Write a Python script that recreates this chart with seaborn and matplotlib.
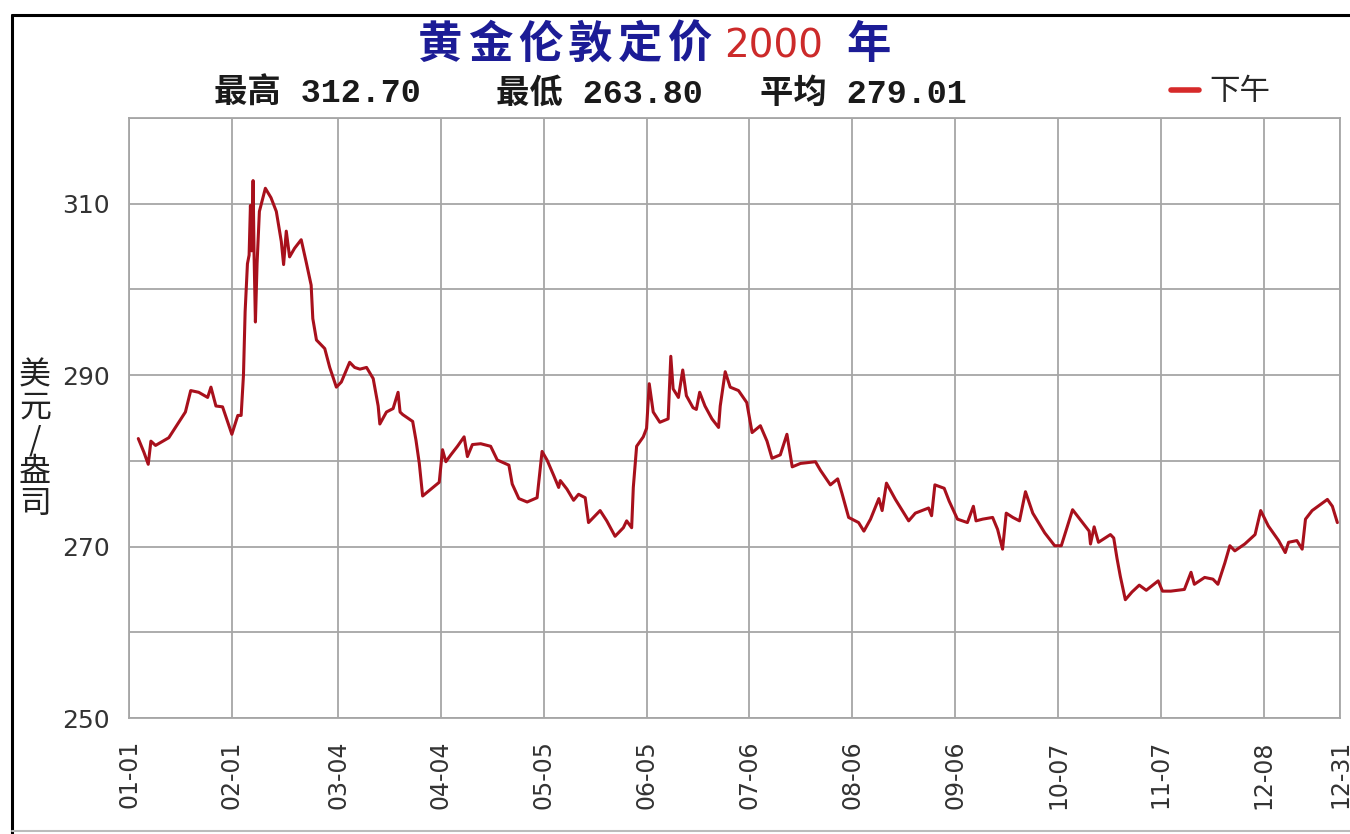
import pandas as pd
import seaborn as sns
import matplotlib.pyplot as plt
from matplotlib.lines import Line2D
from matplotlib.ticker import MultipleLocator

# London PM gold fix, year 2000
# day = days since 01-01, price = USD / oz
day = [2.8, 4.5, 5.8, 6.6, 8.0, 12.0, 17.0, 18.6, 21.0, 23.7, 24.7, 26.2, 28.2,
       31.0, 32.8, 33.8, 34.5, 35.0, 35.7, 36.2, 36.6, 37.0, 37.4, 37.7, 38.1,
       38.6, 39.3, 41.1, 42.8, 44.4, 45.9, 46.6, 47.4, 48.4, 49.9, 51.9, 53.4,
       54.9, 55.4, 56.5, 59.0, 60.5, 62.5, 64.0, 66.5, 68.0, 69.6, 71.6, 73.6,
       75.1, 75.6, 77.6, 79.6, 81.1, 81.7,
       82.5, 85.5, 86.5, 87.5, 88.5, 91.0, 93.5, 94.5, 95.5, 97.0, 99.0, 101.0,
       102.0, 103.5, 106.0, 109.0, 111.0, 114.5, 115.5, 117.5, 120.0, 123.0,
       124.5, 126.0, 128.0, 129.5, 130.0, 132.0, 134.0, 135.5, 137.5, 138.5,
       142.0, 144.0, 146.5, 149.0, 150.0, 151.5, 152.0, 153.0, 155.0,
       156.0, 156.8, 158.0, 160.0, 162.5, 163.3, 164.0, 165.6, 166.9, 168.0,
       170.0, 171.0, 172.0, 173.6, 175.7, 177.7, 178.2, 179.7, 181.2, 183.7,
       186.2, 187.8, 190.3, 192.3, 193.8, 196.3, 198.3, 199.9, 202.4, 206.9,
       208.4, 211.4, 213.6, 214.9, 216.9,
       219.9, 221.5, 223.5, 226.0, 227.0, 228.3, 231.0, 235.0, 237.0, 241.0,
       241.9, 242.9, 245.7, 247.2, 249.7, 252.7, 254.5, 255.3, 257.3, 260.3,
       261.8, 263.3, 264.4, 266.4, 268.4, 270.2, 272.4, 276.0, 279.0, 281.0,
       284.4, 286.6,
       289.4, 289.8, 290.9, 292.2, 295.8, 296.8, 297.8, 298.8, 300.3, 302.3,
       304.5, 306.6, 310.2, 311.5, 314.0, 318.1, 320.1, 321.1, 324.2, 326.7,
       328.2, 330.3, 331.8, 333.3, 336.3, 339.4, 341.1, 343.4, 346.5, 348.5,
       349.5, 352.0, 353.6, 354.6, 356.6, 361.2, 362.7, 364.2]
price = [282.6, 281.0, 279.6, 282.3, 281.8, 282.7, 285.7, 288.2, 288.0, 287.4, 288.6, 286.4, 286.3,
         283.1, 285.3, 285.3, 290.0, 297.4, 303.0, 304.0, 309.8, 304.5, 312.7, 304.0, 296.2,
         303.0, 309.1, 311.8, 310.7, 309.1, 305.6, 302.9, 306.8, 303.8, 304.8, 305.8, 303.2,
         300.5, 296.6, 294.1, 293.1, 290.9, 288.6, 289.2, 291.5, 290.9, 290.7, 290.9, 289.6,
         286.4, 284.3, 285.7, 286.1, 288.0, 285.7,
         285.4, 284.6, 282.4, 279.7, 275.9, 276.7, 277.5, 281.3, 279.9, 280.7, 281.7, 282.8,
         280.5, 281.9, 282.0, 281.7, 280.1, 279.5, 277.3, 275.6, 275.2, 275.7,
         281.1, 280.1, 278.3, 276.9, 277.7, 276.7, 275.4, 276.1, 275.7, 272.8,
         274.2, 273.0, 271.2, 272.2, 273.0, 272.2, 276.9, 281.7, 282.8,
         283.8, 289.0, 285.7, 284.5, 284.9, 292.2, 288.4, 287.4, 290.6, 287.6,
         286.2, 286.0, 288.0, 286.4, 284.9, 283.9, 286.4, 290.4, 288.6, 288.2,
         286.8, 283.3, 284.1, 282.3, 280.3, 280.7, 283.1, 279.3, 279.7, 279.9,
         278.9, 277.2, 277.9, 276.2, 273.4,
         272.8, 271.8, 273.2, 275.6, 274.2, 277.4, 275.5, 273.0, 273.9, 274.5,
         273.6, 277.2, 276.8, 275.3, 273.2, 272.8, 274.7, 273.0, 273.2, 273.4,
         272.0, 269.7, 273.9, 273.4, 273.0, 276.4, 273.9, 271.6, 270.1, 270.1,
         274.3, 273.2,
         271.8, 270.3, 272.3, 270.5, 271.4, 271.0, 268.6, 266.5, 263.8, 264.7,
         265.5, 264.9, 266.0, 264.8, 264.8, 265.0, 267.0, 265.6, 266.4, 266.2,
         265.6, 268.1, 270.1, 269.5, 270.3, 271.4, 274.2, 272.4, 270.7, 269.3,
         270.5, 270.7, 269.7, 273.2, 274.2, 275.5, 274.7, 272.8]

tick_labels = ["01-01", "02-01", "03-04", "04-04", "05-05", "06-05", "07-06",
               "08-06", "09-06", "10-07", "11-07", "12-08", "12-31"]
y_ticks = [250, 270, 290, 310]
stats = [("最高", "312.70"), ("最低", "263.80"), ("平均", "279.01")]

W, H = 1350, 834

sns.set_style("white")
plt.rcParams["font.family"] = ["DejaVu Sans", "Noto Sans CJK SC"]

df = pd.DataFrame({"day": day, "price": price})
tick_pos = [pd.Timestamp("2000-" + t).dayofyear - 1 for t in tick_labels]

fig = plt.figure(figsize=(W / 100, H / 100), dpi=100)
ax = fig.add_axes([129 / W, 1 - 718 / H, (1340 - 129) / W, (718 - 118) / H])

sns.lineplot(data=df, x="day", y="price", ax=ax, color="#a8101c",
             linewidth=2.2, estimator=None, label="下午")

ax.set_xlim(0, 365)
ax.set_ylim(250, 320)
ax.set_xticks(tick_pos)
ax.set_xticklabels(tick_labels, rotation=90)
ax.set_yticks(y_ticks)
ax.yaxis.set_minor_locator(MultipleLocator(10))
ax.grid(which="both", color="#a6a6a6", linewidth=1.3)
ax.tick_params(axis="both", which="both", length=0, colors="#333333")
ax.tick_params(axis="x", labelsize=17, pad=16)
ax.tick_params(axis="y", labelsize=18, pad=14)
ax.set_xlabel("")
ax.set_ylabel("")
for s in ax.spines.values():
    s.set_color("#a6a6a6")
    s.set_linewidth(1.3)

leg = ax.legend(loc="center left", bbox_to_anchor=(1171 / W, 1 - 92 / H),
                bbox_transform=fig.transFigure, frameon=False, fontsize=22,
                handlelength=0.9, handletextpad=0.35, borderpad=0, borderaxespad=0)
leg.get_lines()[0].set_color("#d62a2a")
leg.get_lines()[0].set_linewidth(4)

# title in three colours, the Chinese part spaced out like the original
cjk = ["Noto Sans CJK SC"]
for i, ch in enumerate("黄金伦敦定价"):
    fig.text((418 + i * 50) / W, 1 - 58 / H, ch, color="#1c1c96", fontsize=32,
             fontweight="bold", family=cjk, va="baseline")
fig.text(724 / W, 1 - 57 / H, "2000", color="#cc2a2a", fontsize=28, va="baseline")
fig.text(846 / W, 1 - 58 / H, "年", color="#1c1c96", fontsize=32,
         fontweight="bold", family=cjk, va="baseline")

# max / min / mean line
mono = ["Liberation Mono", "Noto Sans CJK SC"]
for (name, val), x in zip(stats, [214, 496, 760]):
    fig.text(x / W, 1 - 103 / H, name + " " + val, fontsize=24, fontweight="bold",
             family=mono, color="#1a1a1a", va="baseline")

fig.text(35 / W, 1 - 440 / H, "\n".join("美元/盎司"), fontsize=23, family=cjk,
         ha="center", va="center", linespacing=1.0, color="#222222")

# outer frame of the screenshot
fig.add_artist(Line2D([12 / W, 1], [1 - 15 / H] * 2, color="black", lw=2.2,
                      transform=fig.transFigure))
fig.add_artist(Line2D([12 / W] * 2, [0, 1 - 15 / H], color="black", lw=2.2,
                      transform=fig.transFigure))
fig.add_artist(Line2D([12 / W, 1], [1 - 831 / H] * 2, color="#bbbbbb", lw=1.5,
                      transform=fig.transFigure))

fig.savefig("out.png", dpi=100)
